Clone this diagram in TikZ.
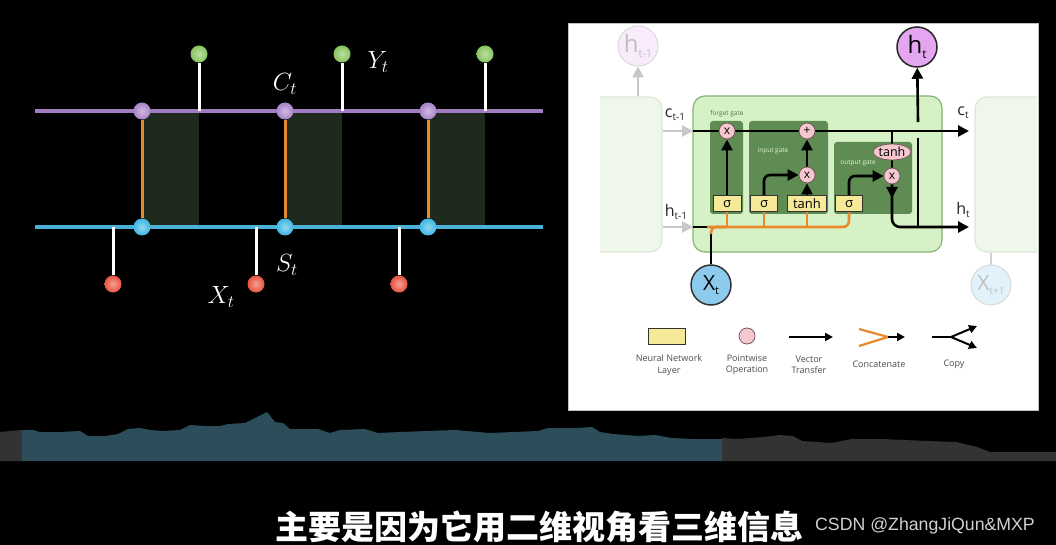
\documentclass[tikz,border=0pt]{standalone}
\usepackage{fontspec}
\usepackage{tikz}
\usetikzlibrary{arrows.meta,positioning,shapes.geometric,calc}
\newfontfamily\panelfont{Open Sans}
\newfontfamily\cjkfont{Noto Sans CJK SC}
\newfontfamily\markfont{Liberation Sans}
\newcommand\lowsub[2][10]{\raisebox{-0.35ex}{\fontsize{#1}{#1}\selectfont #2}}
\pgfdeclarelayer{back}
\pgfdeclarelayer{wires}
\pgfsetlayers{back,wires,main}

\definecolor{statepurple}{HTML}{A07CC0}
\definecolor{stateblue}{HTML}{4AB0D8}
\definecolor{ballgreen}{HTML}{86C45C}
\definecolor{ballred}{HTML}{E8533E}
\definecolor{ballblue}{HTML}{3DB6E2}
\definecolor{ballpurple}{HTML}{A882CA}
\definecolor{linkorange}{HTML}{E8892C}
\definecolor{shadegreen}{HTML}{1E2A1B}
\definecolor{cellfill}{HTML}{D6F1C6}
\definecolor{celledge}{HTML}{86B374}
\definecolor{gatefill}{HTML}{5F8C52}
\definecolor{layerfill}{HTML}{F6EA98}
\definecolor{opfill}{HTML}{F5C8CF}
\definecolor{opedge}{HTML}{7A5A5E}
\definecolor{hfill}{HTML}{E4A6F0}
\definecolor{xfill}{HTML}{8DCBEE}
\definecolor{fadefill}{HTML}{EFF7EB}
\definecolor{fadeedge}{HTML}{DCE8D6}
\definecolor{wavefill}{HTML}{2C4E5A}
\definecolor{wavegray}{HTML}{333333}

\begin{document}
\begin{tikzpicture}[x=1pt, y=-1pt,
  dot/.style={circle, inner sep=0pt, minimum size=17pt, inner color=#1!55!white, outer color=#1},
  stateline/.style={line width=3.5pt},
  stem/.style={white, line width=3pt},
  mathlabel/.style={text=white, font=\fontsize{26}{26}\selectfont, inner sep=0pt},
  cellbox/.style={rectangle, rounded corners=12pt, fill=cellfill, draw=celledge, line width=1.2pt},
  fadecell/.style={rectangle, rounded corners=12pt, fill=fadefill, draw=fadeedge, line width=1.2pt},
  gatebox/.style={rectangle, rounded corners=3pt, fill=gatefill},
  gatelabel/.style={font=\panelfont\fontsize{6.5}{6.5}\selectfont, inner sep=0pt},
  layerbox/.style={rectangle, fill=layerfill, draw=black!80, line width=1pt, inner sep=0pt,
    minimum height=16pt, font=\panelfont\fontsize{13}{13}\selectfont},
  op/.style={circle, fill=opfill, draw=opedge, line width=0.8pt, inner sep=0pt,
    minimum size=16pt, font=\panelfont\fontsize{12}{12}\selectfont},
  bigcircle/.style={circle, line width=1.5pt, inner sep=0pt, minimum size=40pt},
  panellabel/.style={font=\panelfont\fontsize{16}{16}\selectfont, text=black!85, inner sep=0pt},
  legendtext/.style={font=\panelfont\fontsize{9}{11.5}\selectfont, text=black!70, align=center, inner sep=0pt},
  wire/.style={line width=2.6pt},
  vec/.style={line width=2.6pt, -{Triangle[length=11pt, width=11pt]}},
  fadevec/.style={black!22, line width=2.6pt, -{Triangle[length=11pt, width=11pt]}},
  concat/.style={linkorange, line width=2.6pt},
  smallvec/.style={line width=2pt, -{Triangle[length=8pt, width=8pt]}}
]

\begin{pgfonlayer}{back}
  \fill[black] (0,0) rectangle (1056,545);
  \useasboundingbox (0,0) rectangle (1056,545);
  % waveform
  \fill[wavegray] (0,461) -- (0,432) -- (22,430) -- (22,461) -- cycle;
  \fill[wavefill] (22,461) -- (22,430) -- (33,430) -- (40,432) -- (60,432) -- (80,431) -- (88,436)
    -- (105,436) -- (118,434) -- (128,429) -- (140,428) -- (150,430) -- (163,431) -- (180,430)
    -- (190,425) -- (205,426) -- (220,426) -- (228,424) -- (245,423) -- (255,418) -- (267,412)
    -- (275,422) -- (283,423) -- (290,429) -- (318,429) -- (330,433) -- (340,430) -- (365,429)
    -- (378,433) -- (400,432) -- (455,430) -- (490,433) -- (538,431) -- (548,428) -- (576,428)
    -- (592,427) -- (600,432) -- (613,434) -- (638,436) -- (655,435) -- (672,438) -- (693,439)
    -- (722,439) -- (722,461) -- cycle;
  \fill[wavegray] (722,461) -- (722,438) -- (738,439) -- (764,437) -- (779,435) -- (793,436)
    -- (802,441) -- (831,443) -- (852,439) -- (881,439) -- (927,441) -- (956,442) -- (977,447)
    -- (990,452) -- (1056,452) -- (1056,461) -- cycle;
  % right panel
  \node[rectangle, fill=white, draw=black!25, line width=0.6pt, minimum width=470pt, minimum height=387pt]
    (panel) at (803,216.5) {};
  \begin{scope}
    \clip (600,23) rectangle (1037,409);
    \node[fadecell, minimum width=100pt, minimum height=155pt] (prev) at (612,174.5) {};
    \node[fadecell, minimum width=100pt, minimum height=155pt] (next) at (1025,174.5) {};
  \end{scope}
  \node[cellbox, minimum width=249pt, minimum height=156pt] (cell) at (817.5,174) {};
  \node[gatebox, minimum width=33pt, minimum height=93pt] (fgate) at (726.5,167.5) {};
  \node[gatebox, minimum width=79pt, minimum height=93pt] (igate) at (788.5,167.5) {};
  \node[gatebox, minimum width=78pt, minimum height=72pt] (ogate) at (873,178) {};
\end{pgfonlayer}

% left: unrolled chain
\coordinate (cW) at (35,111);
\coordinate (cE) at (543,111);
\coordinate (sW) at (35,227);
\coordinate (sE) at (543,227);
\foreach \i/\x in {1/142,2/285,3/428}{
  \node[dot=ballpurple] (c\i) at (\x,111) {};
  \node[dot=ballblue] (s\i) at (\x,227) {};
  \node[dot=ballgreen] (y\i) at (\x+57,54) {};
  \node[dot=ballred] (x\i) at (\x-29,284) {};
  \coordinate (yfoot\i) at (\x+57,111);
  \coordinate (xfoot\i) at (\x-29,227);
}
\begin{pgfonlayer}{wires}
  \foreach \i in {1,2,3}
    \fill[shadegreen] (c\i.center) rectangle (yfoot\i |- s\i.center);
  \draw[stateline, statepurple] (cW) -- (cE);
  \draw[stateline, stateblue] (sW) -- (sE);
  \foreach \i in {1,2,3}{
    \draw[linkorange, line width=3pt] (c\i) -- (s\i);
    \draw[stem] (y\i) -- (yfoot\i);
    \draw[stem] (x\i) -- (xfoot\i);
  }
\end{pgfonlayer}
\node[mathlabel] (clab) at (285,84) {$C_t$};
\node[mathlabel] (ylab) at (378,62) {$Y_t$};
\node[mathlabel] (slab) at (287,265) {$S_t$};
\node[mathlabel] (xlab) at (221,297) {$X_t$};

% right: LSTM cell
\node[gatelabel, text=gatefill!85!black] (flab) at (727,114) {forget gate};
\node[gatelabel, text=cellfill!80!white] (ilab) at (773,151) {input gate};
\node[gatelabel, text=cellfill!80!white] (olab) at (858,163) {output gate};
\node[op] (fmul) at (727,131) {x};
\node[op] (add) at (807,131) {+};
\node[op] (imul) at (807,175) {x};
\node[op] (omul) at (892,176) {x};
\node[ellipse, fill=opfill, draw=opedge, line width=0.8pt, inner sep=0pt,
  minimum width=38pt, minimum height=16pt, font=\panelfont\fontsize{12.5}{12.5}\selectfont] (otanh) at (892,152) {tanh};
\node[layerbox, minimum width=28pt] (fsig) at (727,204) {σ};
\node[layerbox, minimum width=27pt] (isig) at (764,204) {σ};
\node[layerbox, minimum width=39pt] (itanh) at (807,204) {tanh};
\node[layerbox, minimum width=27pt] (osig) at (849,204) {σ};
\node[bigcircle, fill=hfill, draw=black!85, font=\panelfont\fontsize{24}{24}\selectfont]
  (ht) at (917,47) {h\lowsub[12]{t}};
\node[bigcircle, fill=xfill, draw=black!80, font=\panelfont\fontsize{21}{21}\selectfont]
  (xt) at (711,285) {X\lowsub[11]{t}};
\node[bigcircle, line width=1pt, fill=hfill!22!white, draw=black!15, text=black!25, font=\panelfont\fontsize{24}{24}\selectfont]
  (hprev) at (638,46) {h\lowsub[11]{t-1}};
\node[bigcircle, line width=1pt, fill=xfill!25!white, draw=black!15, text=black!25, font=\panelfont\fontsize{21}{21}\selectfont]
  (xnext) at (991,285) {X\lowsub[10]{t+1}};
\node[panellabel] (ctm) at (675,115) {c\lowsub{t-1}};
\node[panellabel] (htm) at (676,212) {h\lowsub{t-1}};
\node[panellabel] (ct) at (963,113) {c\lowsub{t}};
\node[panellabel] (htl) at (963,210) {h\lowsub{t}};

\coordinate (cin) at (693,131);
\coordinate (cout) at (969,131);
\coordinate (hin) at (693,227);
\coordinate (hjoin) at (707,227);
\coordinate (xjoin) at (711,234);
\coordinate (hout) at (969,227);
\coordinate (hsplit) at (918,227);
\coordinate (hgapA) at (918,138);
\coordinate (hgapB) at (918,122);

\begin{pgfonlayer}{wires}
  \draw[fadevec] (prev.east |- cin) -- (cin);
  \draw[fadevec] (prev.east |- hin) -- (hin);
  \draw[fadevec] (prev.north -| hprev) -- (hprev);
  \draw[black!18, line width=2.6pt] (xnext) -- (xnext |- next.south);
  \draw[vec] (cin) -- (cout);
  \draw[wire] (hin) -- (hjoin);
  \draw[wire] (xt) -- (xjoin);
  \draw[concat, rounded corners=5pt] (xjoin) |- (725,227);
  \draw[concat, rounded corners=6pt] (hjoin) -| (osig);
  \draw[concat] (fsig) -- (fsig |- hjoin);
  \draw[concat] (isig) -- (isig |- hjoin);
  \draw[concat] (itanh) -- (itanh |- hjoin);
  \draw[vec] (fsig) -- (fmul);
  \draw[vec] (itanh) -- (imul);
  \draw[vec] (imul) -- (add);
  \draw[vec, rounded corners=6pt] (isig) |- (imul);
  \draw[vec, rounded corners=6pt] (osig) |- (omul);
  \draw[wire] (otanh |- cin) -- (otanh);
  \draw[wire] (otanh) -- (omul);
  \draw[vec] (omul) -- ++(0,22);
  \draw[vec, rounded corners=8pt] (omul) |- (hout);
  \draw[wire] (hsplit) -- (hgapA);
  \draw[vec] (hgapB) -- (ht);
\end{pgfonlayer}

% legend
\node[layerbox, minimum width=37pt] (lgnn) at (667,336) {};
\node[op, minimum size=16pt] (lgop) at (747,336) {};
\coordinate (lgvecA) at (789,337);
\coordinate (lgvecB) at (833,337);
\coordinate (lgcatA) at (859,329);
\coordinate (lgcatB) at (859,346);
\coordinate (lgcatM) at (888,337);
\coordinate (lgcatE) at (905,337);
\coordinate (lgcpA) at (932,337);
\coordinate (lgcpM) at (951,337);
\coordinate (lgcpU) at (977,326);
\coordinate (lgcpD) at (977,348);
\draw[smallvec] (lgvecA) -- (lgvecB);
\draw[concat, line width=2.2pt] (lgcatA) -- (lgcatM) -- (lgcatB);
\draw[smallvec] (lgcatM) -- (lgcatE);
\draw[line width=2pt] (lgcpA) -- (lgcpM);
\draw[smallvec] (lgcpM) -- (lgcpU);
\draw[smallvec] (lgcpM) -- (lgcpD);
\node[legendtext] (lgnnt) at (669,365) {Neural Network\\Layer};
\node[legendtext] (lgopt) at (747,365) {Pointwise\\Operation};
\node[legendtext] (lgvect) at (809,365) {Vector\\Transfer};
\node[legendtext] (lgcatt) at (879,364) {Concatenate};
\node[legendtext] (lgcpt) at (954,364) {Copy};

% subtitle and mark
\node[anchor=base west, inner sep=0pt, text=white, font=\cjkfont\bfseries\fontsize{33}{33}\selectfont]
  (subtitle) at (275,539) {主要是因为它用二维视角看三维信息};
\node[anchor=base west, inner sep=0pt, text=black!18, font=\markfont\fontsize{17.7}{17.7}\selectfont]
  (mark) at (815,530) {CSDN @ZhangJiQun\&MXP};
\end{tikzpicture}
\end{document}
